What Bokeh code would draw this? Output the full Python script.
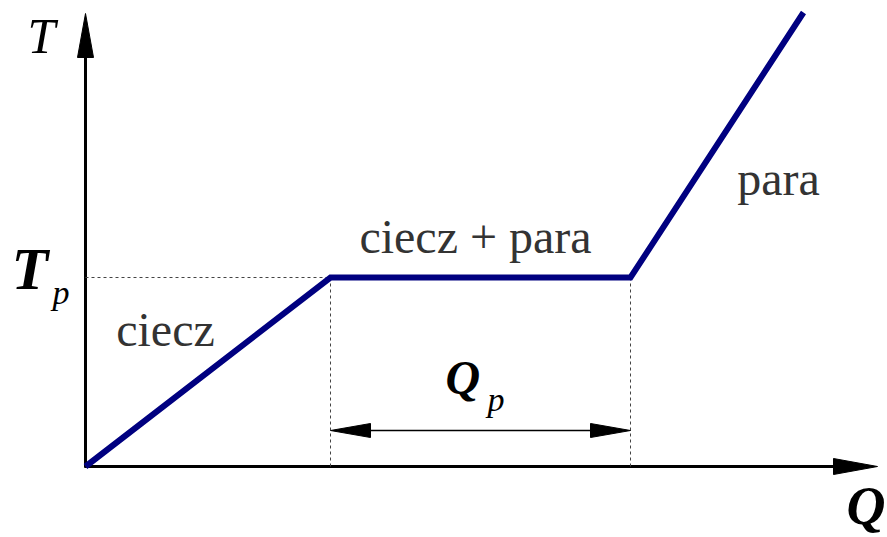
from bokeh.plotting import figure
from bokeh.models import Range1d
from bokeh.core.properties import value
from bokeh.embed import file_html
from bokeh.resources import INLINE

# Heating curve: heat supplied Q vs temperature T (arbitrary units)
Q_pts = [0.0, 2.45, 5.45, 7.18]
T_pts = [0.0, 1.89, 1.89, 4.54]

# Axis extents (arrow tips)
Q_axis_max = 7.92
T_axis_max = 4.53

# Level of the double arrow marking the latent heat Q_p
Qp_arrow_T = 0.36

# Phase labels: (text, Q, T)
phase_text = ["ciecz", "ciecz + para", "para"]
phase_Q = [0.80, 3.90, 6.93]
phase_T = [1.37, 2.30, 2.88]

SERIF = value("Liberation Serif")

p = figure(width=887, height=537, x_range=Range1d(-0.85, 8.02), y_range=Range1d(-0.71, 4.66),
           output_backend="svg", toolbar_location=None, x_axis_type=None, y_axis_type=None,
           min_border=0, min_border_left=0, min_border_right=0, min_border_top=0,
           min_border_bottom=0, background_fill_color="white", border_fill_color="white")
p.outline_line_color = None
p.grid.visible = False

# arrowhead geometry (data units; 1 unit = 100 px)
head_len = 0.44
head_half = 0.08

# axes
p.line([0, 0], [-0.01, T_axis_max - head_len], line_color="black", line_width=3)
p.line([-0.01, Q_axis_max - head_len], [0, 0], line_color="black", line_width=3)
p.patch([0, -head_half, head_half], [T_axis_max, T_axis_max - head_len, T_axis_max - head_len],
        fill_color="black", line_color="black", line_width=1)
p.patch([Q_axis_max, Q_axis_max - head_len, Q_axis_max - head_len], [0, head_half, -head_half],
        fill_color="black", line_color="black", line_width=1)

# dashed guides
Tp = T_pts[1]
q1, q2 = Q_pts[1], Q_pts[2]
p.line([0, q1], [Tp, Tp], line_color="#444444", line_width=1, line_dash="3 3")
p.line([q1, q1], [0, Tp], line_color="#444444", line_width=1, line_dash="3 3")
p.line([q2, q2], [0, Tp], line_color="#444444", line_width=1, line_dash="3 3")

# double arrow for Q_p
a_len = 0.40
a_half = 0.07
p.line([q1 + a_len, q2 - a_len], [Qp_arrow_T, Qp_arrow_T], line_color="black", line_width=1.3)
p.patch([q1, q1 + a_len, q1 + a_len], [Qp_arrow_T, Qp_arrow_T + a_half, Qp_arrow_T - a_half],
        fill_color="black", line_color="black", line_width=1)
p.patch([q2, q2 - a_len, q2 - a_len], [Qp_arrow_T, Qp_arrow_T + a_half, Qp_arrow_T - a_half],
        fill_color="black", line_color="black", line_width=1)

# heating curve
p.line(Q_pts, T_pts, line_color="#000080", line_width=6, line_join="miter")

# phase labels
p.text(x=phase_Q, y=phase_T, text=phase_text, text_font=SERIF, text_font_size="48px",
       text_color="#333333", text_align="center", text_baseline="alphabetic")

# symbols
p.text(x=[-0.58], y=[4.31], text=["T"], text_font=SERIF, text_font_size="50px",
       text_font_style="italic", text_color="black", text_baseline="alphabetic")
p.text(x=[-0.74], y=[1.98], text=["T"], text_font=SERIF, text_font_size="60px",
       text_font_style="bold italic", text_color="black", text_baseline="alphabetic")
p.text(x=[-0.33], y=[1.74], text=["p"], text_font=SERIF, text_font_size="34px",
       text_font_style="italic", text_color="black", text_baseline="alphabetic")
p.text(x=[3.60], y=[0.89], text=["Q"], text_font=SERIF, text_font_size="48px",
       text_font_style="bold italic", text_color="black", text_baseline="alphabetic")
p.text(x=[4.02], y=[0.67], text=["p"], text_font=SERIF, text_font_size="34px",
       text_font_style="italic", text_color="black", text_baseline="alphabetic")
p.text(x=[7.61], y=[-0.39], text=["Q"], text_font=SERIF, text_font_size="54px",
       text_font_style="bold italic", text_color="black", text_baseline="alphabetic")

open("out.html", "w").write(file_html(p, INLINE))
